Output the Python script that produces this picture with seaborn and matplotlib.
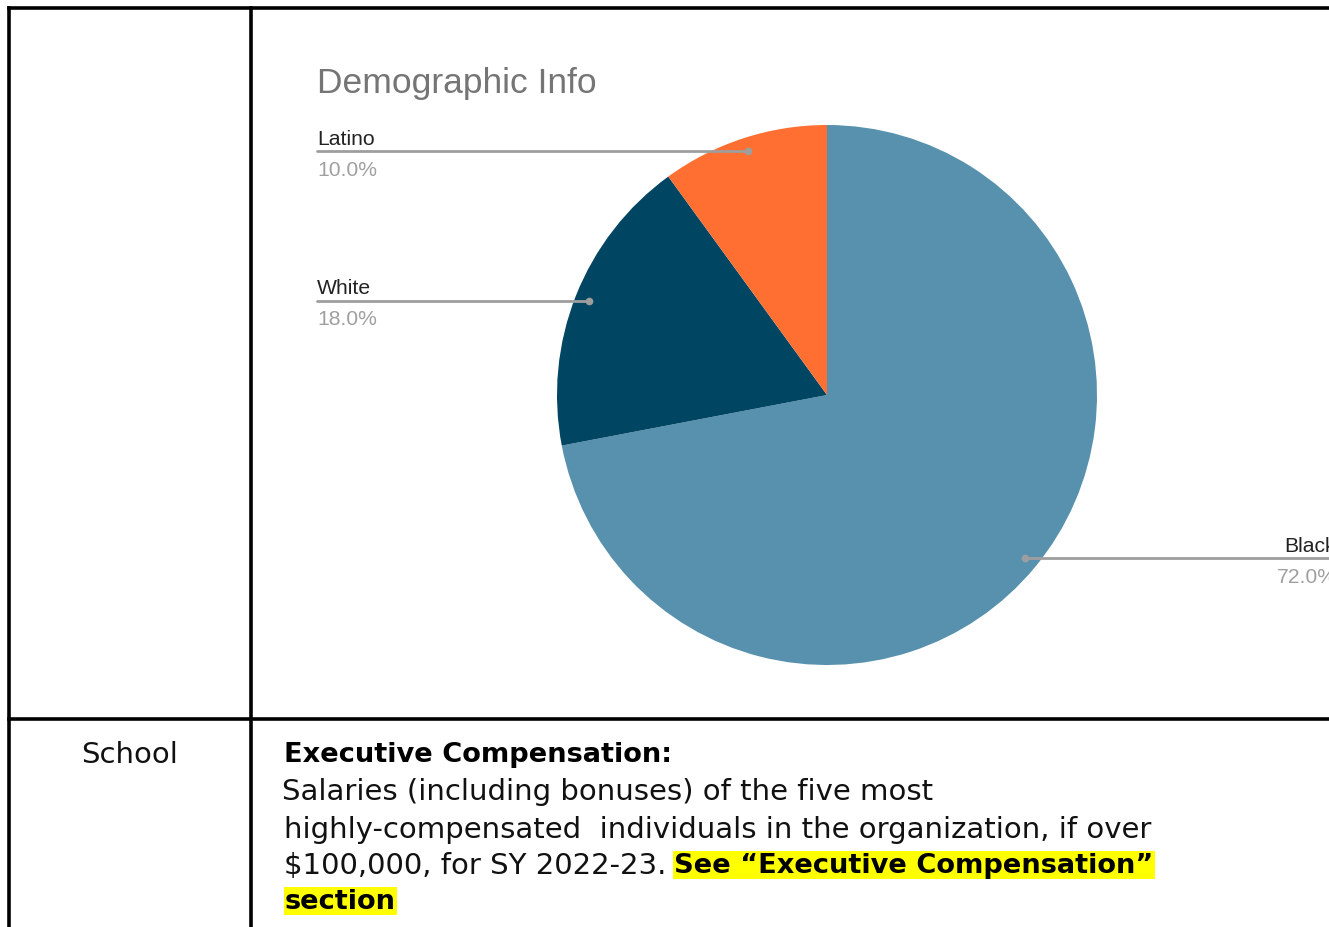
import matplotlib
matplotlib.use("Agg")
import matplotlib.pyplot as plt
import seaborn as sns
import numpy as np

# Demographic breakdown
groups = ["Black", "White", "Latino"]
shares = [72.0, 18.0, 10.0]
slice_colors = ["#5891ad", "#004561", "#ff6f31"]

title = "Demographic Info"
row_label = "School"
heading = "Executive Compensation:"
body_lines = [
    "Salaries (including bonuses) of the five most",
    "highly-compensated  individuals in the organization, if over",
]
last_plain = "$100,000, for SY 2022-23."
last_bold = "See \u201cExecutive Compensation\u201d"
final_bold = "section"

sns.set_theme(style="white")
plt.rcParams["font.family"] = ["Liberation Sans", "DejaVu Sans"]

W, H = 1329, 928
fig = plt.figure(figsize=(W / 100, H / 100), dpi=100)
ax = fig.add_axes([0, 0, 1, 1])


def Y(p):
    return H - p


# table grid
grid_kw = dict(color="black", lw=2.6, solid_capstyle="projecting")
ax.plot([8.5, W + 5], [Y(8.5), Y(8.5)], **grid_kw)
ax.plot([8.5, 8.5], [Y(8.5), Y(H + 5)], **grid_kw)
ax.plot([251, 251], [Y(8.5), Y(H + 5)], **grid_kw)
ax.plot([8.5, W + 5], [Y(719.5), Y(719.5)], **grid_kw)

# pie
cx, cy, r = 827, Y(396), 270
wedges, _ = ax.pie(shares, colors=slice_colors, startangle=90, counterclock=False,
                   center=(cx, cy), radius=r, wedgeprops=dict(linewidth=0))

ax.set_xlim(0, W)
ax.set_ylim(0, H)
ax.set_aspect("auto")
ax.axis("off")

ax.text(317, Y(84), title, fontsize=25.5, color="#757575", va="center", ha="left")

label_x = {"Latino": 317, "White": 317, "Black": 1284}
pct_x = {"Latino": 317, "White": 317, "Black": 1277}
for w, name, val in zip(wedges, groups, shares):
    mid = np.deg2rad((w.theta1 + w.theta2) / 2)
    dx, dy = cx + 0.95 * r * np.cos(mid), cy + 0.95 * r * np.sin(mid)
    lx = label_x[name]
    if lx < cx:
        ax.plot([lx, dx], [dy, dy], color="#9e9e9e", lw=2, zorder=3)
    else:
        ax.plot([dx, W + 5], [dy, dy], color="#9e9e9e", lw=2, zorder=3)
    ax.plot([dx], [dy], "o", ms=5.5, color="#9e9e9e", mec="none", zorder=4)
    ax.text(lx, dy + 13, name, fontsize=15.2, color="#222222", va="center", ha="left")
    ax.text(pct_x[name], dy - 18, f"{val:.1f}%", fontsize=15.2, color="#a0a0a0",
            va="center", ha="left")

# lower row text
doc_font = ["DejaVu Sans"]
fs = 21
fsb = 19.6
ax.text(130, Y(755), row_label, fontsize=fs, family=doc_font, color="#111111",
        va="center", ha="center")
ax.text(284, Y(755), heading, fontsize=fsb, family=doc_font, color="#000000",
        va="center", ha="left", fontweight="bold")
ax.text(282, Y(792), body_lines[0], fontsize=fs, family=doc_font, color="#111111",
        va="center", ha="left")
ax.text(284, Y(830), body_lines[1], fontsize=fs, family=doc_font, color="#111111",
        va="center", ha="left")
t_plain = ax.text(284, Y(866), last_plain, fontsize=fs, family=doc_font, color="#111111",
                  va="center", ha="left")
fig.canvas.draw()
ext = t_plain.get_window_extent().transformed(ax.transData.inverted())
hl = dict(boxstyle="square,pad=0.05", fc="#ffff00", ec="none")
ax.text(ext.x1 + 8, Y(866), last_bold, fontsize=fsb, family=doc_font, color="#000000",
        va="center", ha="left", fontweight="bold", bbox=hl)
ax.text(285, Y(902), final_bold, fontsize=fsb, family=doc_font, color="#000000",
        va="center", ha="left", fontweight="bold", bbox=hl)

fig.savefig("out.png", dpi=100, facecolor="white")
